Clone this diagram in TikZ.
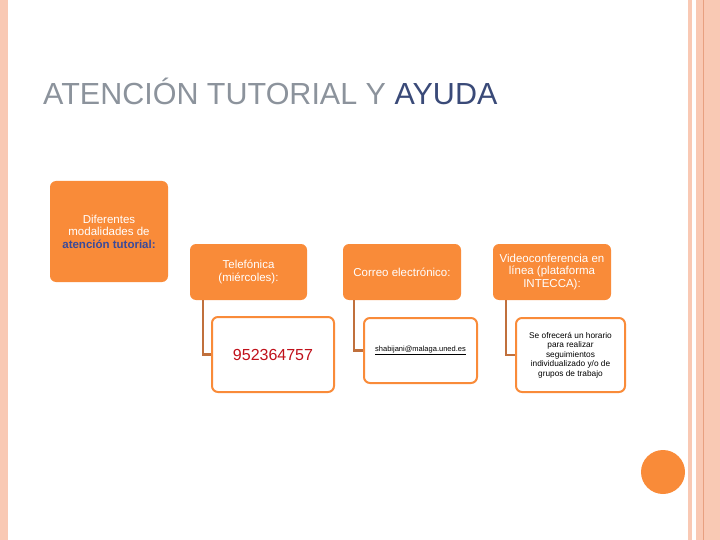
\documentclass[tikz,border=0pt]{standalone}
\usepackage{fontspec}
\setmainfont{Liberation Sans}
\definecolor{org}{HTML}{F98B39}
\definecolor{pinkb}{HTML}{F9C9B4}
\definecolor{lineb}{HTML}{E8A080}
\definecolor{conn}{HTML}{C0703C}
\definecolor{tgray}{HTML}{8C939C}
\definecolor{tnavy}{HTML}{3A4A78}
\definecolor{lblue}{HTML}{3A4A9A}
\definecolor{numred}{HTML}{C0101A}
\begin{document}
\begin{tikzpicture}[x=1pt,y=-1pt,
 parent/.style={fill=org,rounded corners=6pt,text=white,align=center,font=\fontsize{11.5}{12.5}\selectfont},
 child/.style={draw=org,line width=2pt,fill=white,rounded corners=6pt,align=center},
 conline/.style={draw=conn,line width=2.5pt}]
\useasboundingbox (0,0) rectangle (720,540);
\fill[pinkb] (0,0) rectangle (8,540);
\fill[pinkb] (688,0) rectangle (692,540);
\fill[pinkb] (696,0) rectangle (720,540);
\draw[lineb,line width=0.8pt] (703,0) -- (703,540);
\fill[org] (663,472) circle (22);
\node[anchor=west,font=\fontsize{30.5}{33}\selectfont,text=tgray,inner sep=0pt] (title) at (43,91) {ATENCIÓN TUTORIAL Y \textcolor{tnavy}{AYUDA}};
\node[parent,minimum width=118pt,minimum height=101pt] (a) at (109,231.5) {Diferentes\\modalidades de\\\textcolor{lblue}{\textbf{atención tutorial:}}};
\node[parent,minimum width=117pt,minimum height=56pt] (t) at (248.5,272) {Telefónica\\(miércoles):};
\node[parent,minimum width=118pt,minimum height=56pt] (c) at (402,272) {Correo electrónico:};
\node[parent,minimum width=118pt,minimum height=56pt] (v) at (552,272) {Videoconferencia en\\línea (plataforma\\INTECCA):};
\node[child,minimum width=122pt,minimum height=75pt,text=numred,font=\fontsize{16}{18}\selectfont] (tc) at (273,354.5) {952364757};
\node[child,minimum width=113pt,minimum height=65pt,font=\fontsize{7.5}{9}\selectfont] (cc) at (420.5,350.5) {\underline{shabijani@malaga.uned.es}};
\node[child,minimum width=109pt,minimum height=74pt,font=\fontsize{8.3}{9.5}\selectfont] (vc) at (570.5,355) {Se ofrecerá un horario\\para realizar\\seguimientos\\individualizado y/o de\\grupos de trabajo};
\draw[conline] (t.south west) ++(13,0) |- (tc.west);
\draw[conline] (c.south west) ++(11,0) |- (cc.west);
\draw[conline] (v.south west) ++(13,0) |- (vc.west);
\end{tikzpicture}
\end{document}
